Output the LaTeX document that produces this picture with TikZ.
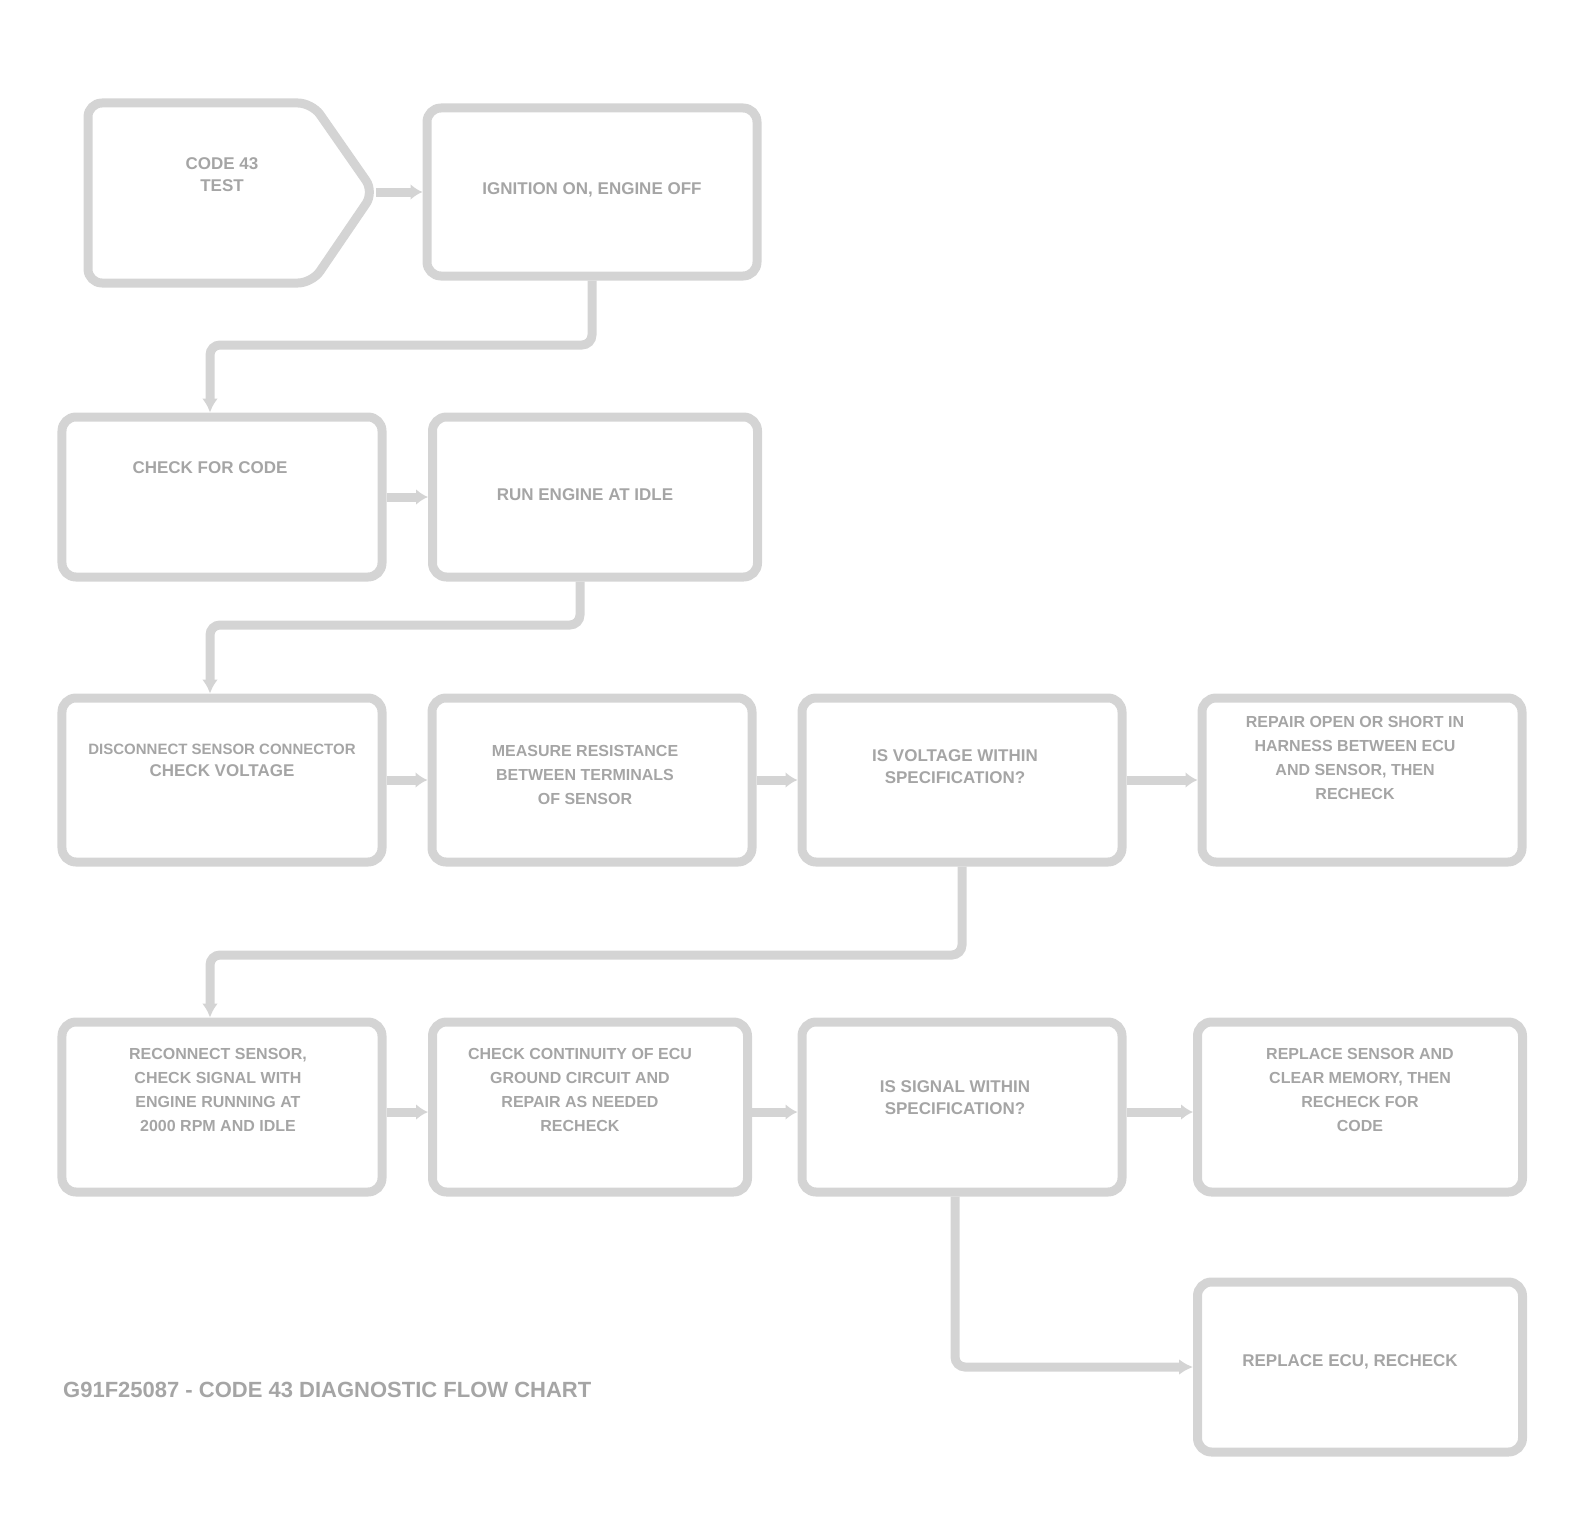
\documentclass[tikz,border=0pt]{standalone}
\usepackage{fontspec}
\setmainfont{Liberation Sans}
\usetikzlibrary{arrows.meta,calc}
\definecolor{lineg}{RGB}{212,212,212}
\definecolor{textg}{RGB}{165,165,165}
\tikzset{
  boxnode/.style={draw=lineg,line width=9bp,rounded corners=14bp,inner sep=0pt,
    minimum width=#1,minimum height=168bp},
  boxnode/.default=320bp,
  txt/.style={text=textg,font=\bfseries\fontsize{17bp}{22bp}\selectfont,align=center,inner sep=0pt},
  dense/.style={font=\bfseries\fontsize{16bp}{24bp}\selectfont},
  conn/.style={draw=lineg,line width=9bp,rounded corners=10bp,-{Latex[length=14bp,width=16bp]}},
  link/.style={draw=lineg,line width=9bp,-{Latex[length=12bp,width=16bp]}}
}
\begin{document}
\begin{tikzpicture}[x=1bp,y=-1bp]
\useasboundingbox (0,0) rectangle (1575,1537);
% start shape
\draw[draw=lineg,line width=9bp,rounded corners=14bp]
  (88,103) -- (312,103) -- (374,192) -- (312,283) -- (88,283) -- cycle;
\coordinate (sr) at (376,192);
\node[txt] (s) at (222,175) {CODE 43\\TEST};
% row 1
\node[boxnode=330bp] (b2) at (592,192) {};
\node[txt] (t2) at (592,190) {IGNITION ON, ENGINE OFF};
% row 2
\node[boxnode=320bp,minimum height=160bp] (b3) at (222,497) {};
\node[txt] (t3) at (210,468) {CHECK FOR CODE};
\node[boxnode=325bp,minimum height=160bp] (b4) at (595,497) {};
\node[txt] (t4) at (585,495) {RUN ENGINE AT IDLE};
% row 3
\node[boxnode=320bp,minimum height=164bp] (b5) at (222,780) {};
\node[txt] (t5) at (222,760) {\fontsize{15bp}{26bp}\selectfont DISCONNECT SENSOR CONNECTOR\\CHECK VOLTAGE};
\node[boxnode=320bp,minimum height=164bp] (b6) at (592,780) {};
\node[txt,dense] (t6) at (585,775) {MEASURE RESISTANCE\\BETWEEN TERMINALS\\OF SENSOR};
\node[boxnode=320bp,minimum height=164bp] (b7) at (962,780) {};
\node[txt] (t7) at (955,767) {IS VOLTAGE WITHIN\\SPECIFICATION?};
\node[boxnode=320bp,minimum height=164bp] (b8) at (1362,780) {};
\node[txt,dense] (t8) at (1355,758) {REPAIR OPEN OR SHORT IN\\HARNESS BETWEEN ECU\\AND SENSOR, THEN\\RECHECK};
% row 4
\node[boxnode=320bp,minimum height=170bp] (b9) at (222,1107) {};
\node[txt,dense] (t9) at (218,1090) {RECONNECT SENSOR,\\CHECK SIGNAL WITH\\ENGINE RUNNING AT\\2000 RPM AND IDLE};
\node[boxnode=315bp,minimum height=170bp] (b10) at (590,1107) {};
\node[txt,dense] (t10) at (580,1090) {CHECK CONTINUITY OF ECU\\GROUND CIRCUIT AND\\REPAIR AS NEEDED\\RECHECK};
\node[boxnode=320bp,minimum height=170bp] (b11) at (962,1107) {};
\node[txt] (t11) at (955,1098) {IS SIGNAL WITHIN\\SPECIFICATION?};
\node[boxnode=325bp,minimum height=170bp] (b12) at (1360,1107) {};
\node[txt,dense] (t12) at (1360,1090) {REPLACE SENSOR AND\\CLEAR MEMORY, THEN\\RECHECK FOR\\CODE};
% row 5
\node[boxnode=325bp,minimum height=170bp] (b13) at (1360,1367) {};
\node[txt] (t13) at (1350,1362) {REPLACE ECU, RECHECK};
% caption
\node[txt,anchor=west,font=\bfseries\fontsize{22bp}{24bp}\selectfont] (cap) at (63,1390) {G91F25087 - CODE 43 DIAGNOSTIC FLOW CHART};
% connectors
\coordinate (j1) at (210,345);
\coordinate (j2) at (210,625);
\coordinate (j3) at (210,955);
\draw[link] (sr) -- (b2.west);
\draw[conn] (b2.south) |- (j1) -- (j1 |- b3.north);
\draw[link] (b3.east) -- (b4.west);
\draw[conn] ([xshift=-15bp]b4.south) |- (j2) -- (j2 |- b5.north);
\draw[link] (b5.east) -- (b6.west);
\draw[link] (b6.east) -- (b7.west);
\draw[link] (b7.east) -- (b8.west);
\draw[conn] (b7.south) |- (j3) -- (j3 |- b9.north);
\draw[link] ([yshift=-5bp]b9.east) -- ([yshift=-5bp]b10.west);
\draw[link] ([yshift=-5bp]b10.east) -- ([yshift=-5bp]b11.west);
\draw[link] ([yshift=-5bp]b11.east) -- ([yshift=-5bp]b12.west);
\draw[conn] ([xshift=-7bp]b11.south) |- (b13.west);
\end{tikzpicture}
\end{document}
